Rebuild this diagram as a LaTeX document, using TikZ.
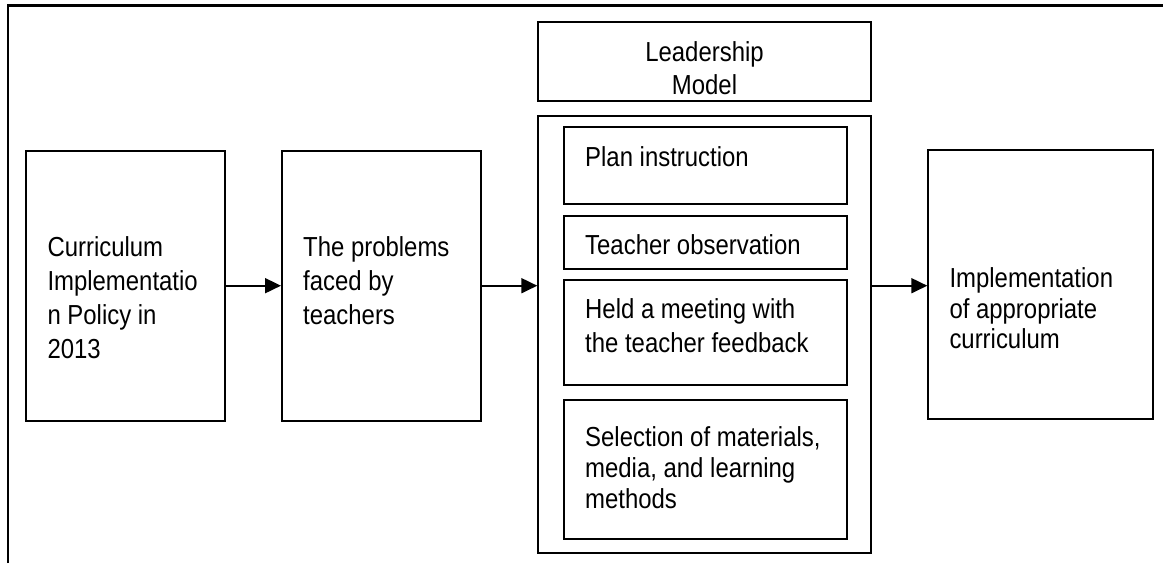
\documentclass[tikz,border=0pt]{standalone}
\usepackage{fontspec}
\setmainfont{Liberation Sans}[FakeStretch=0.87]
\usetikzlibrary{arrows.meta}

\tikzset{
  procbox/.style={draw, line width=2pt, rectangle, inner sep=0pt},
  boxtext/.style={anchor=north west, inner sep=0pt, align=left, font=\fontsize{27.5}{#1}\selectfont},
  boxtext/.default=34,
  arr/.style={line width=1.9pt, -{Triangle[length=16pt,width=15pt]}}
}

\begin{document}
\begin{tikzpicture}[x=1pt,y=1pt,yscale=-1,xscale=1]
\useasboundingbox (0,0) rectangle (1165,563);

%Frame
\coordinate (fbot) at (8,563);
\coordinate (fcorner) at (8,5.5);
\coordinate (fright) at (1163,5.5);
\draw [line width=2.2pt] (fbot) -- (fcorner) -- (fright) ;

%Flowchart: Process
\node [procbox, minimum width=198.7, minimum height=270.3] (curr) at (125.4,285.9) {};
%Flowchart: Process
\node [procbox, minimum width=199, minimum height=270.3] (prob) at (381.5,285.9) {};
%Flowchart: Process
\node [procbox, minimum width=332.4, minimum height=79] (lead) at (704.5,61.2) {};
%Flowchart: Process (container)
\node [procbox, minimum width=332.4, minimum height=437] (model) at (704.5,334.5) {};
%Flowchart: Process
\node [procbox, minimum width=282.7, minimum height=77] (plan) at (705.4,165.8) {};
%Flowchart: Process
\node [procbox, minimum width=282.7, minimum height=52.7] (obs) at (705.4,242.4) {};
%Flowchart: Process
\node [procbox, minimum width=282.7, minimum height=105] (meet) at (705.4,332.5) {};
%Flowchart: Process
\node [procbox, minimum width=282.7, minimum height=139] (sel) at (705.4,469.5) {};
%Flowchart: Process
\node [procbox, minimum width=224.4, minimum height=269.3] (impl) at (1040.5,284.7) {};

%Straight Lines
\draw [arr] (curr.east |- 0,285.7) -- (prob.west |- 0,285.7) ;
%Straight Lines
\draw [arr] (prob.east |- 0,285.7) -- (model.west |- 0,285.7) ;
%Straight Lines
\draw [arr] (model.east |- 0,285.7) -- (impl.west |- 0,285.7) ;

% Text Node
\node [boxtext] (currtxt) at (47.3,236.7) {Curriculum\\Implementatio\\n Policy in\\2013};
% Text Node
\node [boxtext] (probtxt) at (303,236.7) {The problems\\faced by\\teachers};
% Text Node
\node [boxtext=33, anchor=north, align=center] (leadtxt) at (704.5,41.7) {Leadership\\Model};
% Text Node
\node [boxtext] (plantxt) at (585,146.7) {Plan instruction};
% Text Node
\node [boxtext] (obstxt) at (585,234) {Teacher observation};
% Text Node
\node [boxtext] (meettxt) at (585,298.3) {Held a meeting with\\the teacher feedback};
% Text Node
\node [boxtext=31] (seltxt) at (585,426.7) {Selection of materials,\\media, and learning\\methods};
% Text Node
\node [boxtext=30.5] (impltxt) at (949.3,267.7) {Implementation\\of appropriate\\curriculum};

\end{tikzpicture}
\end{document}
